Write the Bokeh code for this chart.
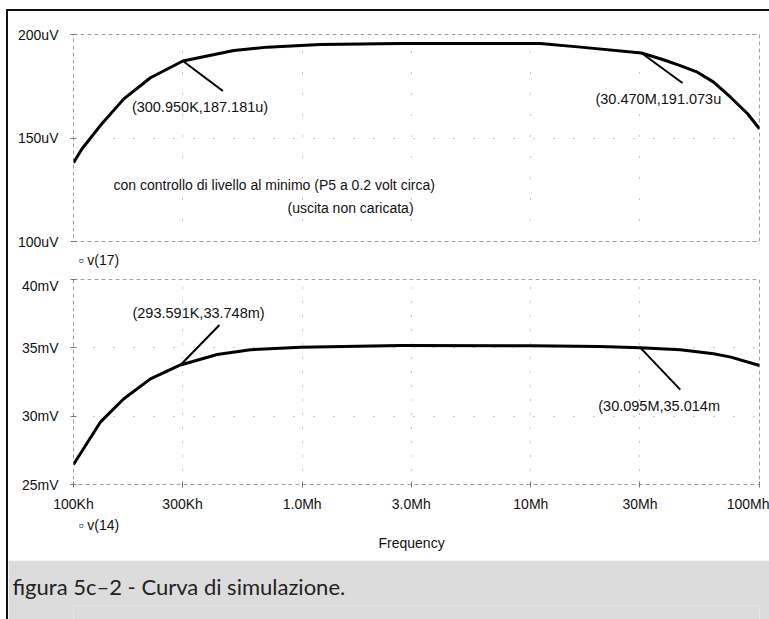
from bokeh.plotting import figure
from bokeh.layouts import column, row
from bokeh.models import FixedTicker, Label, Range1d, Title, Spacer
from bokeh.embed import file_html
from bokeh.resources import INLINE

# ---------------- data ----------------
freq_v17 = [100e3, 109e3, 131e3, 166e3, 217e3, 300.95e3, 503e3, 704e3, 1.2e6, 2.7e6,
            6e6, 11e6, 16.5e6, 30.47e6, 38e6, 45e6, 53.5e6, 63e6, 74.7e6, 88.7e6, 100e6]
v17_uV = [138.0, 144.8, 156.0, 168.9, 179.1, 187.181, 192.3, 193.9, 195.2, 195.6,
          195.7, 195.6, 193.9, 191.073, 187.8, 185.0, 181.8, 177.0, 169.7, 161.7, 154.4]

freq_v14 = [100e3, 131e3, 166e3, 217e3, 293.591e3, 425e3, 594e3, 984e3, 2.7e6,
            10e6, 20e6, 30.095e6, 45e6, 63e6, 75e6, 100e6]
v14_mV = [26.47, 29.56, 31.27, 32.73, 33.748, 34.51, 34.86, 35.05, 35.17,
          35.15, 35.10, 35.014, 34.86, 34.56, 34.32, 33.71]

x_ticks = [1e5, 3e5, 1e6, 3e6, 1e7, 3e7, 1e8]
x_tick_labels = ["100Kh", "300Kh", "1.0Mh", "3.0Mh", "10Mh", "30Mh", "100Mh"]
top_ticks = [100, 150, 200]
top_tick_labels = ["100uV", "150uV", "200uV"]
bot_ticks = [25, 30, 35, 40]
bot_tick_labels = ["25mV", "30mV", "35mV", "40mV"]

top_marker_f = [300.950e3, 30.470e6]
top_marker_v = [187.181, 191.073]
top_marker_text = ["(300.950K,187.181u)", "(30.470M,191.073u"]
bot_marker_f = [293.591e3, 30.095e6]
bot_marker_v = [33.748, 35.014]
bot_marker_text = ["(293.591K,33.748m)", "(30.095M,35.014m"]

note_lines = ["con controllo di livello al minimo (P5 a 0.2 volt circa)",
              "(uscita non caricata)"]
legend_top = "\u25ab v(17)"
legend_bot = "\u25ab v(14)"
x_title = "Frequency"
caption = "figura 5c\u20132 - Curva di simulazione."

# ---------------- layout ----------------
W = 761
BL, BR = 65, 10
FONT = "Liberation Sans"
GRID = "#8a8a8a"
FRAME = "#a0a0a0"
INK = "#111111"


def panel(height, bt, bb, yr, yticks, ylabels, ygrid, dash):
    p = figure(width=W, height=height, x_axis_type="log",
               x_range=Range1d(1e5, 1e8), y_range=Range1d(*yr),
               output_backend="svg", toolbar_location=None,
               min_border_left=BL, min_border_right=BR,
               min_border_top=bt, min_border_bottom=bb)
    p.background_fill_color = "white"
    p.border_fill_color = "white"
    p.outline_line_color = FRAME
    p.outline_line_dash = "4 3"
    p.outline_line_width = 1
    p.xaxis.ticker = FixedTicker(ticks=x_ticks)
    p.yaxis.ticker = FixedTicker(ticks=yticks)
    p.yaxis.major_label_overrides = {t: l for t, l in zip(yticks, ylabels)}
    for ax in (p.xaxis[0], p.yaxis[0]):
        ax.axis_line_color = None
        ax.major_tick_line_color = "#777777"
        ax.major_tick_in = 3
        ax.major_tick_out = 3
        ax.minor_tick_line_color = None
        ax.major_label_text_font = FONT
        ax.major_label_text_font_size = "14px"
        ax.major_label_text_color = INK
    p.yaxis.major_label_standoff = 12
    p.xgrid.ticker = FixedTicker(ticks=x_ticks[1:-1])
    p.ygrid.ticker = FixedTicker(ticks=ygrid)
    p.xgrid.grid_line_color = GRID
    p.ygrid.grid_line_color = GRID
    p.xgrid.grid_line_dash = dash
    p.ygrid.grid_line_dash = "1 19"
    p.xgrid.grid_line_width = 1
    p.ygrid.grid_line_width = 1
    return p


def side_title(p, text, place, standoff, offset=0, align="left", size="14px", font=FONT,
               color=INK):
    p.add_layout(Title(text=text, align=align, offset=offset, standoff=standoff,
                       text_font=font, text_font_size=size, text_font_style="normal",
                       text_color=color, vertical_align="bottom"), place)


TOP_H, TOP_BT, TOP_BB = 266, 23, 36
BOT_H, BOT_BT, BOT_BB = 283, 2, 76
FRAME_W = W - BL - BR

p1 = panel(TOP_H, TOP_BT, TOP_BB, (100, 200), top_ticks, top_tick_labels, [150], "1 20")
p1.xaxis.visible = False

p2 = panel(BOT_H, BOT_BT, BOT_BB, (25, 40), bot_ticks, bot_tick_labels, [30, 35], "1 13")
p2.xaxis.major_label_overrides = {t: l for t, l in zip(x_ticks, x_tick_labels)}
p2.xaxis.major_label_standoff = 8

p1.line(freq_v17, v17_uV, line_color="black", line_width=3, line_join="round")
p2.line(freq_v14, v14_mV, line_color="black", line_width=3, line_join="round")

side_title(p1, legend_top, "below", 17, offset=5)
side_title(p2, legend_bot, "below", 0, offset=5)
side_title(p2, x_title, "below", 0, offset=305)


def markers(p, fs, vs, texts, ppu, lead, offs):
    ppd = FRAME_W / 3.0
    for f, v, t, (dx, dy), (lx, ly) in zip(fs, vs, texts, lead, offs):
        p.segment(x0=[f], y0=[v], x1=[f * 10 ** (dx / ppd)], y1=[v + dy / ppu],
                  line_color="black", line_width=2)
        p.add_layout(Label(x=f, y=v, x_offset=lx, y_offset=ly, text=t,
                           text_font=FONT, text_font_size="14.5px",
                           text_color=INK, text_baseline="middle",
                           text_align="left"))


top_ppu = (TOP_H - TOP_BT - TOP_BB) / 100.0
bot_ppu = (BOT_H - BOT_BT - BOT_BB) / 15.0
markers(p1, top_marker_f, top_marker_v, top_marker_text, top_ppu,
        [(40, -30), (41, -30)], [(-51, -46), (-46, -46)])
markers(p2, bot_marker_f, bot_marker_v, bot_marker_text, bot_ppu,
        [(39, 40), (40, -42)], [(-48, 52), (-42, -58)])

# notes inside upper panel (screen units relative to frame)
p1.add_layout(Label(x=40, y=57, x_units="screen", y_units="screen", text=note_lines[0],
                    text_font=FONT, text_font_size="14px", text_color=INK,
                    text_baseline="middle"))
p1.add_layout(Label(x=214, y=34, x_units="screen", y_units="screen", text=note_lines[1],
                    text_font=FONT, text_font_size="14px", text_color=INK,
                    text_baseline="middle"))

# caption band
BAND = "#dcdcdc"
p3 = figure(width=W, height=59, x_range=Range1d(0, 1), y_range=Range1d(0, 1),
            output_backend="svg", toolbar_location=None,
            min_border_left=0, min_border_right=0, min_border_top=45, min_border_bottom=0)
p3.axis.visible = False
p3.grid.visible = False
p3.outline_line_color = None
p3.background_fill_color = BAND
p3.border_fill_color = BAND
side_title(p3, caption, "above", 11, offset=-(BL - 4), size="22px", font="Lato",
           color="#222222")

vbar = Spacer(width=2, height=610, styles={"background-color": INK})
hbar = Spacer(width=W, height=2, styles={"background-color": INK})
layout = row(Spacer(width=6, height=619),
             column(Spacer(width=W + 2, height=9),
                    row(vbar, column(hbar, p1, p2, p3, spacing=0), spacing=0),
                    spacing=0),
             spacing=0)

open("out.html", "w").write(file_html(layout, INLINE))
